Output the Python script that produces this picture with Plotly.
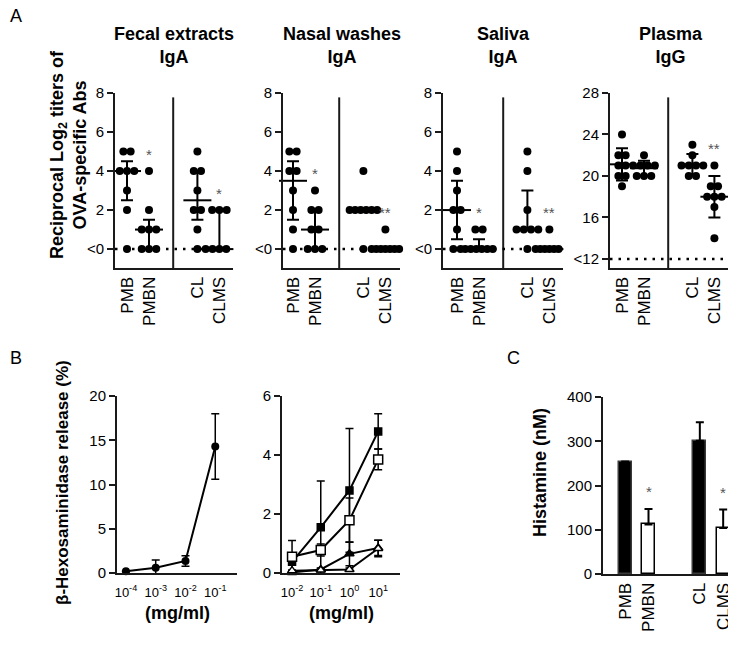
import numpy as np
import plotly.graph_objects as go

# page body adds an 8px margin; the figure is sized so it fits exactly in the 736x646 window
OFF = 8
W, H = 736 - OFF, 646 - OFF
FONT = "Arial, Liberation Sans, sans-serif"

# ---------------- Panel A data ----------------
groups = ["PMB", "PMBN", "CL", "CLMS"]
panel_titles = ["Fecal extracts<br>IgA", "Nasal washes<br>IgA", "Saliva<br>IgA", "Plasma<br>IgG"]

fecal_iga = [[5, 5, 4, 4, 4, 3, 2, 0], [4, 2, 1, 1, 1, 0, 0, 0],
             [5, 4, 4, 3, 2, 2, 1, 0], [2, 2, 2, 0, 0, 0, 0, 0]]
nasal_iga = [[5, 5, 4, 4, 3, 2, 1, 0], [3, 2, 2, 1, 1, 0, 0, 0],
             [4, 2, 2, 2, 2, 2, 2, 0], [1, 0, 0, 0, 0, 0, 0, 0]]
saliva_iga = [[5, 4, 3, 2, 2, 1, 0, 0], [1, 1, 0, 0, 0, 0, 0, 0],
              [5, 4, 2, 1, 1, 1, 1, 0], [1, 0, 0, 0, 0, 0, 0, 0]]
plasma_igg = [[24, 22, 22, 21, 21, 20, 20, 19], [22, 21, 21, 21, 21, 20, 20, 20],
              [23, 22, 21, 21, 21, 21, 20, 20], [21, 19, 19, 18, 18, 18, 17, 14]]

fecal_sig = ["", "*", "", "*"]
nasal_sig = ["", "*", "", "**"]
saliva_sig = ["", "*", "", "**"]
plasma_sig = ["", "", "", "**"]

iga_ticks = [0, 2, 4, 6, 8]
iga_ticktext = ["<0", "2", "4", "6", "8"]
igg_ticks = [12, 16, 20, 24, 28]
igg_ticktext = ["<12", "16", "20", "24", "28"]

# ---------------- Panel B data ----------------
conc_left = [1e-4, 1e-3, 1e-2, 1e-1]
hex_left = [0.2, 0.6, 1.36, 14.3]
hex_left_err = [0.05, 0.87, 0.6, 3.7]
conc_left_ticktext = ["10<sup>-4</sup>", "10<sup>-3</sup>", "10<sup>-2</sup>", "10<sup>-1</sup>"]

conc_right = [1e-2, 1e-1, 1e0, 1e1]
conc_right_ticktext = ["10<sup>-2</sup>", "10<sup>-1</sup>", "10<sup>0</sup>", "10<sup>1</sup>"]
hex_filled_sq = [0.38, 1.55, 2.8, 4.8]
hex_filled_sq_err = [0.3, 1.57, 2.1, 0.6]
hex_open_sq = [0.55, 0.78, 1.79, 3.85]
hex_open_sq_err = [0.55, 0.2, 0.75, 0.35]
hex_filled_tri = [0.02, 0.12, 0.65, 0.85]
hex_filled_tri_err = [0.02, 0.05, 0.4, 0.26]
hex_open_tri = [0.08, 0.1, 0.12, 0.83]
hex_open_tri_err = [0.02, 0.05, 0.05, 0.28]

# ---------------- Panel C data ----------------
histamine = [252, 112, 301, 104]
histamine_err = [2, 35, 42, 42]
histamine_sig = ["", "*", "", "*"]

# ---------------- helpers (window pixel -> paper fraction) ----------------
def px_x(p):
    return (p - OFF) / W

def px_y(p):
    return 1 - (p - OFF) / H

cat_pos = [1, 2, 4.2, 5.2]
sep_pos = 3.1
UNIT = 22.0  # px per category unit


def hinges(v):
    s = sorted(v)
    n = len(s)
    h = n // 2
    return float(np.median(s[:h])), float(np.median(s)), float(np.median(s[n - h:]))


def mean_sd(v):
    a = np.array(v, float)
    m = a.mean()
    sd = a.std(ddof=1)
    return float(m - sd), float(m), float(m + sd)


def swarm(vals, center):
    vals = list(vals)
    xs = [0.0] * len(vals)
    uniq = {}
    for i, v in enumerate(vals):
        uniq.setdefault(v, []).append(i)
    for v, idx in uniq.items():
        c = len(idx)
        step = 0.33 if c <= 4 else min(0.33, 1.25 / (c - 1))
        for k, i in enumerate(idx):
            xs[i] = center + (k - (c - 1) / 2) * step
    return xs


def note(x, y, text, size, **kw):
    d = dict(x=x, y=y, xref="paper", yref="paper", text=text, showarrow=False,
             xanchor="center", yanchor="middle", font=dict(size=size, color="black", family=FONT))
    d.update(kw)
    fig.add_annotation(**d)


fig = go.Figure()
axis_line = dict(showline=True, linewidth=2, linecolor="#1a1a1a", zeroline=False, showgrid=False,
                 automargin=False)

A_left_px = [115, 283, 443, 610]
A_right_px = [233, 400, 563, 732]
A_first_px = [127, 293, 457, 622]
A_top, A_bot = 93, 268

datasets = [fecal_iga, nasal_iga, saliva_iga, plasma_igg]
sigs = [fecal_sig, nasal_sig, saliva_sig, plasma_sig]

for i in range(4):
    ax = i + 1
    xa = "x" if ax == 1 else f"x{ax}"
    ya = "y" if ax == 1 else f"y{ax}"
    is_igg = i == 3
    xr0 = cat_pos[0] - (A_first_px[i] - A_left_px[i]) / UNIT
    xr1 = xr0 + (A_right_px[i] - A_left_px[i]) / UNIT
    if is_igg:
        yr = [11.13, 28]
        base = 12
        ticks, ttext = igg_ticks, igg_ticktext
    else:
        yr = [-0.97, 8]
        base = 0
        ticks, ttext = iga_ticks, iga_ticktext
    data = datasets[i]
    for g, vals in enumerate(data):
        xs = swarm(vals, cat_pos[g])
        fig.add_trace(go.Scatter(x=xs, y=vals, mode="markers", xaxis=xa, yaxis=ya,
                                 marker=dict(color="black", size=8, symbol="circle"),
                                 cliponaxis=False, showlegend=False))
        lo, mid, hi = mean_sd(vals) if is_igg else hinges(vals)
        fig.add_trace(go.Scatter(x=[cat_pos[g]], y=[mid], mode="markers", xaxis=xa, yaxis=ya,
                                 marker=dict(symbol="line-ew", size=20, line=dict(color="black", width=2)),
                                 error_y=dict(type="data", symmetric=False, array=[hi - mid],
                                              arrayminus=[mid - lo], color="black", thickness=2, width=6,
                                              visible=bool((hi - lo) > 0)),
                                 cliponaxis=False, showlegend=False))
        if sigs[i][g]:
            fig.add_annotation(x=cat_pos[g], y=max(vals), xref=xa, yref=ya, text=sigs[i][g],
                               xanchor="center", yanchor="middle",
                               showarrow=False, yshift=17, font=dict(size=15, color="#555", family=FONT))
    fig.update_layout(**{
        ("xaxis" if ax == 1 else f"xaxis{ax}"): dict(
            domain=[px_x(A_left_px[i]), px_x(A_right_px[i])], range=[xr0, xr1], anchor=ya,
            tickvals=cat_pos, ticktext=groups, tickangle=-90, ticks="",
            tickfont=dict(size=17, color="black", family=FONT), **axis_line),
        ("yaxis" if ax == 1 else f"yaxis{ax}"): dict(
            domain=[px_y(A_bot), px_y(A_top)], range=yr, anchor=xa,
            tickvals=ticks, ticktext=ttext, ticks="outside", ticklen=6, tickwidth=2, tickcolor="#1a1a1a",
            tickfont=dict(size=15, color="black", family=FONT), **axis_line),
    })
    # separator and dotted baseline
    fig.add_shape(type="line", xref=xa, yref=f"{ya} domain", x0=sep_pos, x1=sep_pos, y0=0, y1=0.975,
                  line=dict(color="#1a1a1a", width=2))
    fig.add_shape(type="line", xref=xa, yref=ya, x0=xr0, x1=xr1, y0=base, y1=base,
                  line=dict(color="black", width=2.5, dash="2.5px,6px"))
    note((px_x(A_left_px[i]) + px_x(A_right_px[i])) / 2, px_y(22), f"<b>{panel_titles[i]}</b>", 18,
         yanchor="top")

# ---------------- Panel B ----------------
B_top, B_bot = 396, 573
fig.add_trace(go.Scatter(x=conc_left, y=hex_left, mode="lines+markers", xaxis="x5", yaxis="y5",
                         line=dict(color="black", width=2), marker=dict(color="black", size=8),
                         error_y=dict(type="data", array=hex_left_err, color="black", thickness=1.5, width=4),
                         cliponaxis=False, showlegend=False))
right_series = [
    (hex_filled_sq, hex_filled_sq_err, "square", "black", 7),
    (hex_open_sq, hex_open_sq_err, "square", "white", 9),
    (hex_filled_tri, hex_filled_tri_err, "triangle-up", "black", 8),
    (hex_open_tri, hex_open_tri_err, "triangle-up", "white", 8),
]
for vals, err, sym, fill, msize in right_series:
    fig.add_trace(go.Scatter(x=conc_right, y=vals, mode="lines+markers", xaxis="x6", yaxis="y6",
                             line=dict(color="black", width=2),
                             marker=dict(color=fill, size=msize, symbol=sym, line=dict(color="black", width=1.5)),
                             error_y=dict(type="data", array=err, color="black", thickness=1.5, width=4),
                             cliponaxis=False, showlegend=False))

fig.update_layout(
    xaxis5=dict(domain=[px_x(117), px_x(237)], type="log", range=[-4.3, -0.27], anchor="y5",
                tickvals=conc_left, ticktext=conc_left_ticktext, ticks="", tickangle=0,
                ticklabelstandoff=6,
                tickfont=dict(size=13, color="black", family=FONT), **axis_line),
    yaxis5=dict(domain=[px_y(B_bot), px_y(B_top)], range=[0, 20], anchor="x5",
                tickvals=[0, 5, 10, 15, 20], ticks="outside", ticklen=6, tickwidth=2, tickcolor="#1a1a1a",
                tickfont=dict(size=15, color="black", family=FONT), **axis_line),
    xaxis6=dict(domain=[px_x(282), px_x(400)], type="log", range=[-2.35, 1.76], anchor="y6",
                tickvals=conc_right, ticktext=conc_right_ticktext, ticks="", tickangle=0,
                ticklabelstandoff=6,
                tickfont=dict(size=13, color="black", family=FONT), **axis_line),
    yaxis6=dict(domain=[px_y(B_bot), px_y(B_top)], range=[0, 6], anchor="x6",
                tickvals=[0, 2, 4, 6], ticks="outside", ticklen=6, tickwidth=2, tickcolor="#1a1a1a",
                tickfont=dict(size=15, color="black", family=FONT), **axis_line),
)
for cx in [(117 + 237) / 2, (282 + 400) / 2]:
    note(px_x(cx), px_y(613), "<b>(mg/ml)</b>", 18)

# ---------------- Panel C ----------------
C_top, C_bot = 397, 574
fig.add_trace(go.Bar(x=cat_pos, y=histamine, xaxis="x7", yaxis="y7", width=0.55,
                     marker=dict(color=["black", "white", "black", "white"],
                                 line=dict(color=["#3a3a3a", "black", "#3a3a3a", "black"], width=1.5)),
                     error_y=dict(type="data", symmetric=False, array=histamine_err,
                                  arrayminus=[0, 0, 0, 0], color="black", thickness=2, width=4),
                     showlegend=False))
for g in range(4):
    if histamine_sig[g]:
        fig.add_annotation(x=cat_pos[g], y=histamine[g] + histamine_err[g], xref="x7", yref="y7",
                           text=histamine_sig[g], showarrow=False, yshift=17,
                           xanchor="center", yanchor="middle",
                           font=dict(size=15, color="#555", family=FONT))
fig.update_layout(
    xaxis7=dict(domain=[px_x(603), px_x(736)], range=[0.05, 5.75], anchor="y7",
                tickvals=cat_pos, ticktext=groups, tickangle=-90, ticks="",
                tickfont=dict(size=17, color="black", family=FONT), **axis_line),
    yaxis7=dict(domain=[px_y(C_bot), px_y(C_top)], range=[0, 400], anchor="x7",
                tickvals=[0, 100, 200, 300, 400], ticks="outside", ticklen=6, tickwidth=2, tickcolor="#1a1a1a",
                tickfont=dict(size=15, color="black", family=FONT), **axis_line),
)

# ---------------- axis titles & panel letters ----------------
note(px_x(68), px_y(155), "<b>Reciprocal Log<sub>2</sub> titers of<br>OVA-specific Abs</b>", 18, textangle=-90)
note(px_x(62), px_y(483), "<b>β-Hexosaminidase release (%)</b>", 17, textangle=-90)
note(px_x(540), px_y(473), "<b>Histamine (nM)</b>", 18, textangle=-90)
for letter, lx, ly in [("A", 16, 16), ("B", 16, 358), ("C", 513, 358)]:
    note(px_x(lx), px_y(ly), letter, 18)

fig.update_layout(template="none", width=W, height=H, margin=dict(l=0, r=0, t=0, b=0, autoexpand=False),
                  plot_bgcolor="white", paper_bgcolor="white", bargap=0,
                  font=dict(family=FONT, color="black"))
fig.write_html("out.html")
